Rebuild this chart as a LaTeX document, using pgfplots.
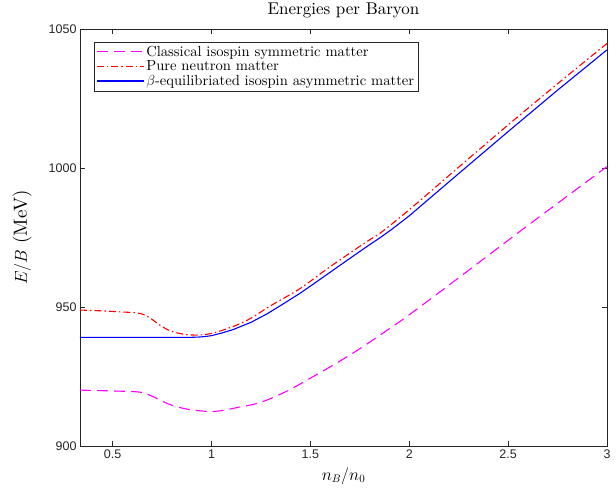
\documentclass[border=0pt]{standalone}
\usepackage{fontspec}
\setmainfont{lmroman10-regular.otf}[ItalicFont=lmroman10-italic.otf, BoldFont=lmroman10-bold.otf]
\usepackage{pgfplots}
\pgfplotsset{compat=1.18}
\newfontfamily\ticksfont{Liberation Sans}
\definecolor{axgray}{gray}{0.15}
\definecolor{cmag}{rgb}{1,0,1}
\definecolor{cred}{rgb}{1,0,0}
\definecolor{cblue}{rgb}{0,0,1}

\begin{document}
\begin{tikzpicture}
\begin{axis}[
  width=527pt, height=417pt, scale only axis,
  xmin=0.335, xmax=3, ymin=900, ymax=1050,
  xtick={0.5,1,1.5,2,2.5,3},
  ytick={900,950,1000,1050},
  xtick pos=both, ytick pos=both,
  tick align=inside,
  major tick length=5pt,
  axis line style={axgray, line width=0.5pt},
  tick style={axgray, line width=0.5pt},
  /pgf/number format/assume math mode=true,
  /pgf/number format/1000 sep={},
  tick label style={font=\ticksfont\fontsize{12.5}{14}\selectfont, text=axgray},
  title={Energies per Baryon},
  title style={font=\fontsize{17}{20}\selectfont, inner sep=0pt,
    at={(axis description cs:0.5,1)}, anchor=base, yshift=9pt},
  xlabel={$n_B/n_0$},
  ylabel={$E/B$ (MeV)},
  xlabel style={font=\fontsize{16}{19}\selectfont, at={(axis description cs:0.5,-0.072)}, anchor=center},
  ylabel style={font=\fontsize{19}{22}\selectfont, at={(axis description cs:-0.11,0.5)}, anchor=center},
  legend cell align=left,
  legend style={at={(0.0266,0.9696)}, anchor=north west, draw=axgray,
    font=\fontsize{14.6}{17}\selectfont, row sep=-1pt, inner sep=2pt},
  legend image code/.code={\draw[#1] (0pt,0pt) -- (47pt,0pt);},
]
\addplot[cmag, line width=1.1pt, dash pattern=on 11pt off 6pt, smooth] coordinates {
  (0.335,920.1) (0.5,919.8) (0.62,919.5) (0.66,919.0) (0.70,917.9)
  (0.74,916.5) (0.78,915.2) (0.83,914.0) (0.89,913.1) (0.95,912.6)
  (1.0,912.4) (1.06,912.8) (1.127,913.8) (1.245,915.6) (1.375,919.5)
  (1.5,924.4) (1.625,929.5) (1.75,935) (1.875,941) (2.0,947.2)
  (2.25,960.5) (2.5,974) (2.75,987.3) (3.0,1000.5)
};
\addlegendentry{Classical isospin symmetric matter}
\addplot[cred, line width=1.1pt, dash pattern=on 7pt off 3pt on 1.5pt off 3pt, smooth] coordinates {
  (0.335,948.9) (0.45,948.6) (0.55,948.2) (0.62,947.9) (0.66,947.2)
  (0.70,945.5) (0.74,943.4) (0.78,941.8) (0.82,940.8) (0.87,940.1)
  (0.92,939.9) (0.97,940.1) (1.0,940.5) (1.05,941.5) (1.127,943.5)
  (1.2,946) (1.3,950.5) (1.447,956.6) (1.6,964.5) (1.785,973.5)
  (1.852,976.5) (2.0,985) (2.25,1000.3) (2.5,1015.5) (2.75,1030.3)
  (3.0,1044.8)
};
\addlegendentry{Pure neutron matter}
\addplot[cblue, line width=1.1pt] coordinates {
  (0.335,939.1) (0.5,939.1) (0.7,939.1) (0.9,939.1) (0.94,939.2)
  (0.97,939.4) (1.0,939.7) (1.05,940.6) (1.11,941.9) (1.2,944.5)
  (1.28,947.5) (1.36,951) (1.447,954.9) (1.53,959) (1.616,963.3)
  (1.7,967.5) (1.785,971.7) (1.852,974.9) (1.911,977.9) (2.0,982.8)
  (2.25,998) (2.5,1013.1) (2.75,1028) (3.0,1042.5)
};
\addlegendentry{$\beta$-equilibriated isospin asymmetric matter}
\end{axis}
\path (current axis.south west) ++(-80pt,-45pt);
\path (current axis.north east) ++(9pt,29pt);
\end{tikzpicture}
\end{document}
